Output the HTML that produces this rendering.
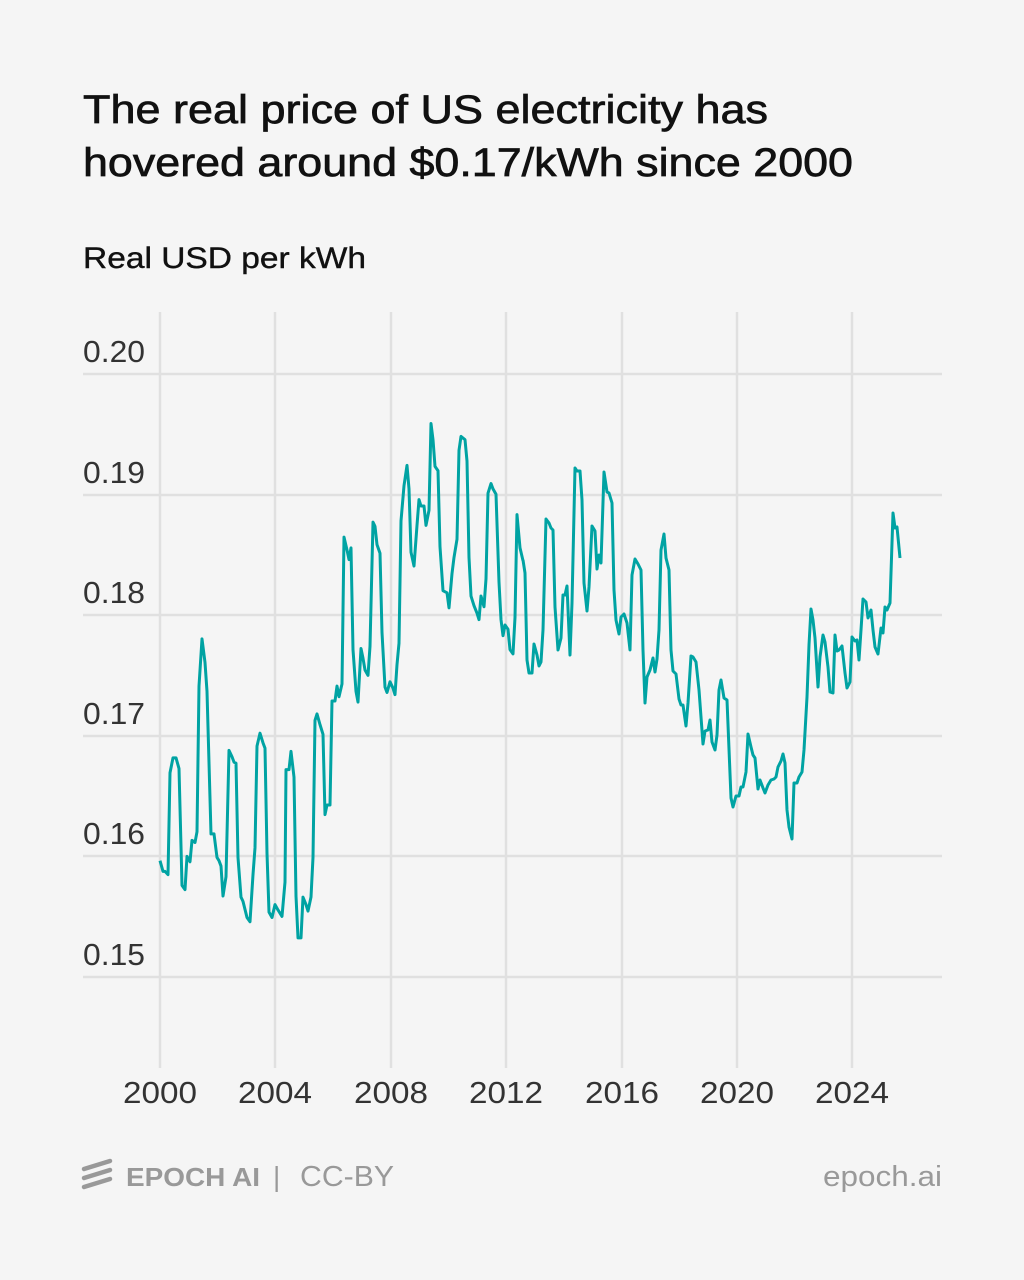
<!DOCTYPE html>
<html><head><meta charset="utf-8"><style>
body{margin:0;background:#f5f5f5;}
svg{display:block}
text{font-family:"Liberation Sans",sans-serif}
</style></head><body>
<svg width="1024" height="1280" viewBox="0 0 1024 1280" xmlns="http://www.w3.org/2000/svg">
<rect width="1024" height="1280" fill="#f5f5f5"/>
<g fill="#111" stroke="#111" stroke-width="0.7">
<text x="83" y="123" font-size="40" textLength="685" lengthAdjust="spacingAndGlyphs">The real price of US electricity has</text>
<text x="83" y="176" font-size="40" textLength="770" lengthAdjust="spacingAndGlyphs">hovered around $0.17/kWh since 2000</text>
</g>
<text x="83" y="268" font-size="30" fill="#111" stroke="#111" stroke-width="0.4" textLength="283" lengthAdjust="spacingAndGlyphs">Real USD per kWh</text>
<g stroke="#e0e0e0" stroke-width="2.5">
<line x1="160" y1="312" x2="160" y2="1068"/><line x1="275" y1="312" x2="275" y2="1068"/><line x1="391" y1="312" x2="391" y2="1068"/><line x1="506" y1="312" x2="506" y2="1068"/><line x1="622" y1="312" x2="622" y2="1068"/><line x1="737" y1="312" x2="737" y2="1068"/><line x1="852" y1="312" x2="852" y2="1068"/>
<line x1="83" y1="374" x2="942" y2="374"/><line x1="83" y1="495" x2="942" y2="495"/><line x1="83" y1="615" x2="942" y2="615"/><line x1="83" y1="736" x2="942" y2="736"/><line x1="83" y1="856" x2="942" y2="856"/><line x1="83" y1="977" x2="942" y2="977"/>
</g>
<g font-size="31" fill="#333">
<text x="83" y="362" textLength="62" lengthAdjust="spacingAndGlyphs">0.20</text><text x="83" y="483" textLength="62" lengthAdjust="spacingAndGlyphs">0.19</text><text x="83" y="603" textLength="62" lengthAdjust="spacingAndGlyphs">0.18</text><text x="83" y="724" textLength="62" lengthAdjust="spacingAndGlyphs">0.17</text><text x="83" y="844" textLength="62" lengthAdjust="spacingAndGlyphs">0.16</text><text x="83" y="965" textLength="62" lengthAdjust="spacingAndGlyphs">0.15</text>
</g>
<g font-size="31" fill="#333">
<text x="123" y="1103" textLength="74" lengthAdjust="spacingAndGlyphs">2000</text><text x="238" y="1103" textLength="74" lengthAdjust="spacingAndGlyphs">2004</text><text x="354" y="1103" textLength="74" lengthAdjust="spacingAndGlyphs">2008</text><text x="469" y="1103" textLength="74" lengthAdjust="spacingAndGlyphs">2012</text><text x="585" y="1103" textLength="74" lengthAdjust="spacingAndGlyphs">2016</text><text x="700" y="1103" textLength="74" lengthAdjust="spacingAndGlyphs">2020</text><text x="815" y="1103" textLength="74" lengthAdjust="spacingAndGlyphs">2024</text>
</g>
<polyline fill="none" stroke="#00a3a3" stroke-width="3" stroke-linejoin="round" vector-effect="non-scaling-stroke" transform="matrix(1 0 0 1.0714 0 -28.57)" points="160,830 163,840 165,840 168,843 170,748 173,734 176,734 179,744 182,853 185,857 187,826 190,831 192,811 195,813 197,803 199,667 202,623 205,645 207,672 211,805 214,805 217,827 219,830 221,835 223,863 226,845 229,727 232,733 234,738 236,739 238,827 241,864 243,868 247,883 250,887 253,843 255,818 257,723 260,711 263,720 265,725 267,823 269,878 272,883 275,871 278,876 282,882 285,850 286,745 289,745 291,728 294,752 296,863 298,902 301,902 303,864 306,871 308,877 311,864 313,827 315,699 317,693 320,703 323,712 325,787 327,778 330,778 332,681 335,681 337,667 339,677 342,665 344,528 347,540 349,549 351,538 353,633 356,672 358,682 361,632 363,641 365,652 368,657 370,630 373,514 375,518 377,535 380,543 382,617 385,668 387,673 390,663 393,669 395,675 397,647 399,627 401,513 404,480 407,461 409,483 411,542 414,555 417,517 419,493 421,499 424,499 426,517 429,503 431,422 433,437 435,462 438,466 440,537 443,578 447,580 449,594 452,562 454,547 457,530 459,447 461,434 465,437 467,457 469,547 471,583 474,592 477,599 479,605 481,583 484,593 486,567 488,487 491,478 493,483 496,488 499,570 501,605 503,620 505,610 508,614 510,633 513,637 515,603 517,507 520,538 523,550"/>
<polyline fill="none" stroke="#00a3a3" stroke-width="3" stroke-linejoin="round" points="523,560 525,573 527,660 529,673 532,673 534,644 537,655 539,666 541,662 543,630 546,519 549,523 551,528 553,530 555,607 558,650 561,638 563,595 565,595 567,586 570,655 572,603 575,468 577,471 580,471 582,500 584,583 587,611 589,587 592,526 595,531 597,569 599,555 601,563 604,472 607,492 609,493 612,503 614,590 616,620 619,634 621,617 624,614 627,623 630,650 632,575 635,559 638,564 641,570 643,650 645,703 647,677 650,670 653,658 655,672 657,659 659,630 661,550 664,534 666,558 669,570 671,650 673,671 676,674 679,699 681,705 683,705 686,726 688,703 691,656 693,657 696,662 699,690 703,744 705,731 708,730 710,720 712,742 715,750 717,735 719,690 721,680 724,698 727,700 731,798 733,807 736,796 739,796 741,787 743,787 746,772 748,734 751,747 753,755 755,758 758,789 760,780 763,788 765,793 768,785 771,780 774,779 776,777 778,767 781,761 783,754 785,763 787,810 789,827 792,839 794,783 797,783 799,777 802,772 804,750 807,697 809,645 811,609 813,620 815,638 818,687 820,657 823,635 825,642 828,667 830,692 833,693 835,635 837,651 839,650 842,646 845,673 847,688 850,682 852,637 855,641 857,640 859,660 861,630 863,599 866,602 868,618 871,610 873,630 875,647 878,654 881,628 883,633 885,607 887,610 890,603 893,513 895,528 897,527 900,558"/>
<g stroke="#999" stroke-width="4.5" stroke-linecap="round">
<line x1="84" y1="1169" x2="110" y2="1161"/><line x1="84" y1="1178" x2="110" y2="1170"/><line x1="84" y1="1187" x2="110" y2="1179"/>
</g>
<text x="126" y="1186" font-size="26" fill="#999" font-weight="bold" textLength="134" lengthAdjust="spacingAndGlyphs">EPOCH AI</text>
<text x="273" y="1186" font-size="28" fill="#999">|</text>
<text x="300" y="1186" font-size="29" fill="#999" textLength="94" lengthAdjust="spacingAndGlyphs">CC-BY</text>
<text x="823" y="1186" font-size="29" fill="#999" textLength="119" lengthAdjust="spacingAndGlyphs">epoch.ai</text>
</svg>
</body></html>
